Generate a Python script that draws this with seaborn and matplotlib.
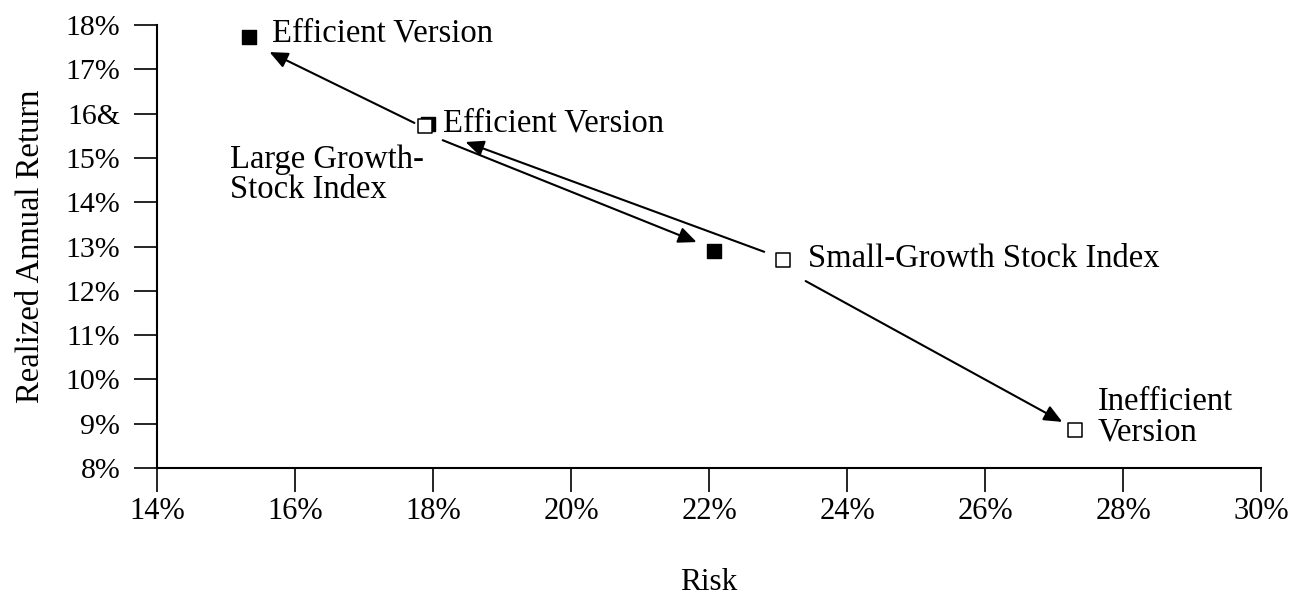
import matplotlib
matplotlib.use("Agg")
import matplotlib.pyplot as plt
import seaborn as sns
import pandas as pd

# ---- data ----
filled_risk = [15.33, 22.07, 17.92]
filled_return = [17.73, 12.90, 15.76]
open_risk = [17.88, 23.07, 27.30]
open_return = [15.72, 12.70, 8.86]

x_ticks = [14, 16, 18, 20, 22, 24, 26, 28, 30]
x_ticklabels = ["14%", "16%", "18%", "20%", "22%", "24%", "26%", "28%", "30%"]
y_ticks = [8, 9, 10, 11, 12, 13, 14, 15, 16, 17, 18]
y_ticklabels = ["8%", "9%", "10%", "11%", "12%", "13%", "14%", "15%", "16&", "17%", "18%"]

# arrows: (start_x, start_y, end_x, end_y)
arrow_start_x = [17.73, 18.14, 22.80, 23.40]
arrow_start_y = [15.79, 15.40, 12.88, 12.22]
arrow_end_x = [15.63, 21.82, 18.47, 27.12]
arrow_end_y = [17.39, 13.10, 15.36, 9.04]

labels = ["Efficient Version", "Efficient Version", "Large Growth-\nStock Index",
          "Small-Growth Stock Index", "Inefficient\nVersion"]
label_x = [15.67, 18.14, 15.06, 23.43, 27.63]
label_y = [17.82, 15.78, 14.62, 12.72, 9.15]

sns.set_theme(style="ticks")
plt.rcParams["font.family"] = ["Liberation Serif", "DejaVu Serif"]

fig = plt.figure(figsize=(13.01, 5.96), dpi=100)
ax = fig.add_axes([0.1207, 0.2148, 0.8486, 0.7432])

fdf = pd.DataFrame({"risk": filled_risk, "ret": filled_return})
odf = pd.DataFrame({"risk": open_risk, "ret": open_return})

sns.scatterplot(data=fdf, x="risk", y="ret", marker="s", s=95, color="black",
                edgecolor="black", linewidth=1.0, ax=ax, zorder=3, clip_on=False)
sns.scatterplot(data=odf, x="risk", y="ret", marker="s", s=95, color="white",
                edgecolor="black", linewidth=1.1, ax=ax, zorder=4, clip_on=False)

for sx, sy, ex, ey in zip(arrow_start_x, arrow_start_y, arrow_end_x, arrow_end_y):
    ax.annotate("", xy=(ex, ey), xytext=(sx, sy),
                arrowprops=dict(arrowstyle="-|>,head_length=0.5,head_width=0.22",
                                color="black", lw=1.5,
                                mutation_scale=22, shrinkA=0, shrinkB=0))

for t, lx, ly in zip(labels, label_x, label_y):
    ax.text(lx, ly, t, fontsize=23.5, ha="left", va="center", color="black",
            linespacing=1.0)

ax.set_xlim(14, 30)
ax.set_ylim(8, 18)
ax.set_xticks(x_ticks)
ax.set_xticklabels(x_ticklabels)
ax.set_yticks(y_ticks)
ax.set_yticklabels(y_ticklabels)

for side in ["top", "right"]:
    ax.spines[side].set_visible(False)
for side in ["left", "bottom"]:
    ax.spines[side].set_linewidth(1.5)
    ax.spines[side].set_color("black")

ax.tick_params(axis="x", length=17, width=1.2, pad=4, labelsize=22, colors="black")
ax.tick_params(axis="y", length=16.5, width=1.2, pad=10, labelsize=21.5, colors="black")

ax.set_xlabel("Risk", fontsize=22.5, labelpad=30, color="black")
ax.set_ylabel("Realized Annual Return", fontsize=23.5, labelpad=14, color="black")

fig.savefig("out.png", dpi=100, facecolor="white")
